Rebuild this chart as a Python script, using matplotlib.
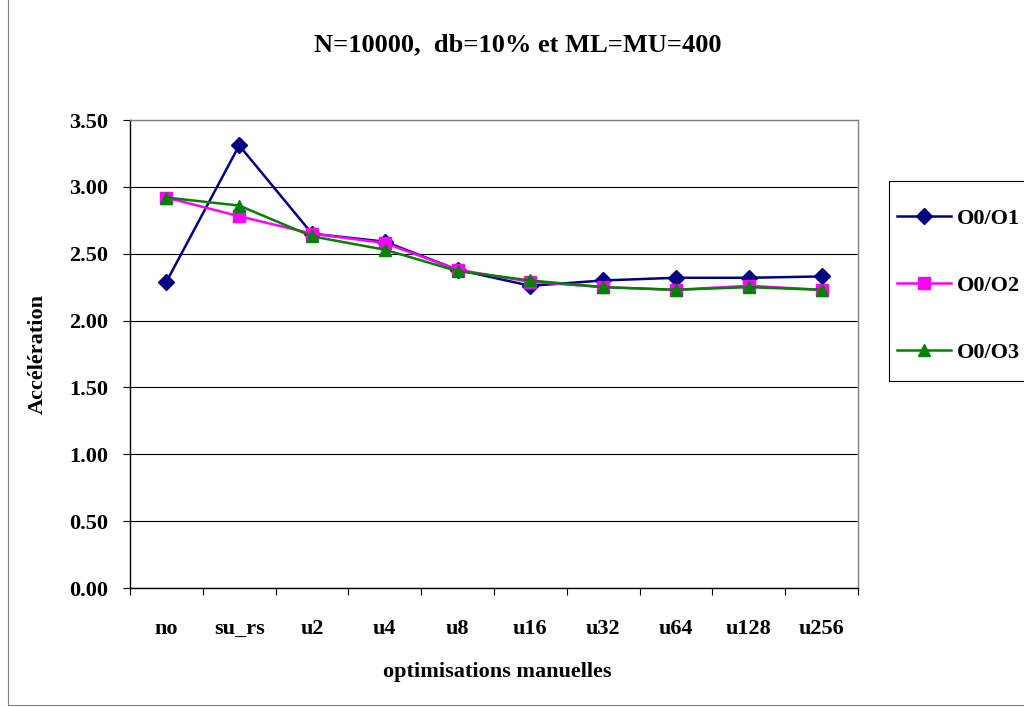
import matplotlib
matplotlib.use("Agg")
import matplotlib.pyplot as plt
from matplotlib.patches import Rectangle
from matplotlib.ticker import FixedLocator

# Chart data
categories = ["no", "su_rs", "u2", "u4", "u8", "u16", "u32", "u64", "u128", "u256"]
o0_o1 = [2.29, 3.31, 2.65, 2.59, 2.38, 2.26, 2.30, 2.32, 2.32, 2.33]
o0_o2 = [2.92, 2.78, 2.65, 2.58, 2.38, 2.29, 2.25, 2.23, 2.26, 2.23]
o0_o3 = [2.92, 2.86, 2.63, 2.53, 2.37, 2.30, 2.25, 2.23, 2.25, 2.23]
series_names = ["O0/O1", "O0/O2", "O0/O3"]
y_ticks = [0.0, 0.5, 1.0, 1.5, 2.0, 2.5, 3.0, 3.5]

plt.rcParams["font.family"] = ["Liberation Serif", "DejaVu Serif"]
plt.rcParams["font.weight"] = "bold"

fig = plt.figure(figsize=(10.24, 7.07), dpi=100)
ax = fig.add_axes([130 / 1024, 119 / 707, 728 / 1024, 468 / 707])

x = list(range(len(categories)))
ax.plot(x, o0_o1, color="#000080", marker="D", markersize=8, lw=1.8,
        label=series_names[0], zorder=3)
ax.plot(x, o0_o2, color="#ff00ff", marker="s", markersize=9, lw=1.8,
        label=series_names[1], zorder=4)
ax.plot(x, o0_o3, color="#008000", marker="^", markersize=9, lw=1.8,
        label=series_names[2], zorder=5)

ax.set_xlim(-0.5, len(categories) - 0.5)
ax.set_ylim(0, 3.5)
ax.set_yticks(y_ticks)
ax.set_yticklabels([f"{v:.2f}" for v in y_ticks])
ax.set_xticks(x)
ax.set_xticklabels(categories)
ax.xaxis.set_minor_locator(FixedLocator([i - 0.5 for i in range(len(categories) + 1)]))
ax.tick_params(axis="x", which="major", length=0, pad=22, labelsize=16)
ax.tick_params(axis="x", which="minor", length=5, width=0.8, direction="out")
ax.tick_params(axis="y", length=5, width=0.8, direction="out", pad=11, labelsize=16)

ax.grid(axis="y", color="black", lw=0.8)
ax.set_axisbelow(True)
for side in ["top", "right"]:
    ax.spines[side].set_color("#808080")
    ax.spines[side].set_linewidth(1.0)
ax.spines["left"].set_linewidth(1.0)
ax.spines["bottom"].set_linewidth(1.0)

ax.set_ylabel("Accélération", fontsize=16, fontweight="bold", va="center")
ax.yaxis.set_label_coords((38 - 130) / 728, 0.5)
ax.set_xlabel("optimisations manuelles", fontsize=16, fontweight="bold", va="center")
ax.xaxis.set_label_coords((497 - 130) / 728, (588 - 672) / 468)
fig.text(518 / 1024, 1 - 45 / 707, "N=10000,  db=10% et ML=MU=400", ha="center",
         va="center", fontsize=19, fontweight="bold")

# legend entries without frame; the box is drawn separately so that the
# horizontal and vertical padding can differ like in the reference
fig.legend(loc="upper left", bbox_to_anchor=(897 / 1024, 1 - 208 / 707),
           frameon=False, fontsize=16, labelspacing=2.1, handlelength=2.45,
           borderpad=0, handletextpad=0.23, borderaxespad=0)
fig.patches.append(Rectangle((889 / 1024, 1 - 381 / 707), 0.2, 200 / 707,
                             transform=fig.transFigure, fill=False,
                             edgecolor="black", lw=0.8))

# thin outer frame around the whole chart
fig.patches.append(Rectangle((8 / 1024, 2 / 707), 1.2, 1.2, transform=fig.transFigure,
                             fill=False, edgecolor="#808080", lw=0.8))

fig.savefig("out.png", dpi=100)
